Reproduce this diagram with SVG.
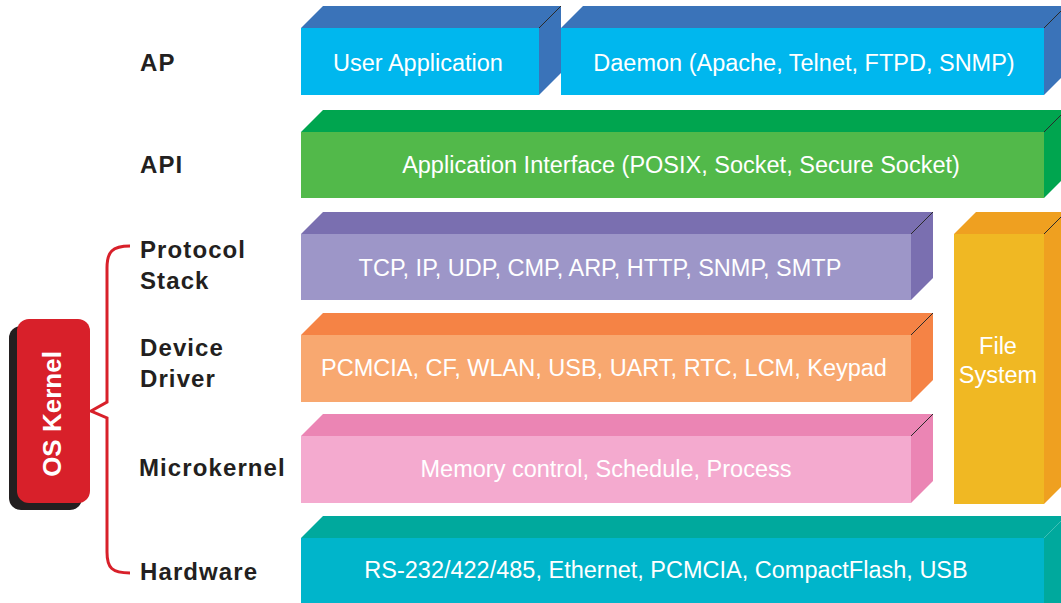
<svg xmlns="http://www.w3.org/2000/svg" width="1061" height="603" viewBox="0 0 1061 603">
<style>
.lbl{font-family:"Liberation Sans",Arial,sans-serif;font-weight:bold;font-size:24px;fill:#231F20;letter-spacing:1.1px}
.in{font-family:"Liberation Sans",Arial,sans-serif;font-size:23.5px;fill:#FFFFFF;text-anchor:middle}
.edge{stroke:#2a2a2a;stroke-width:1;fill:none}
</style>
<rect width="1061" height="603" fill="#FFFFFF"/>
<g id="ap-user">
<polygon points="301,28 323,6 561,6 539,28" fill="#3A73B9"/>
<polygon points="539,28 561,6 561,73 539,95" fill="#3A73B9"/>
<rect x="301" y="28" width="238" height="67" fill="#00B7EE"/>
<line class="edge" x1="539" y1="28" x2="561" y2="6"/>
<text class="in" x="418" y="71">User Application</text>
</g>
<g id="ap-daemon">
<polygon points="561,28 583,6 1066,6 1044,28" fill="#3A73B9"/>
<polygon points="1044,28 1066,6 1066,73 1044,95" fill="#3A73B9"/>
<rect x="561" y="28" width="483" height="67" fill="#00B7EE"/>
<line class="edge" x1="1044" y1="28" x2="1066" y2="6"/>
<text class="in" x="804" y="71">Daemon (Apache, Telnet, FTPD, SNMP)</text>
</g>
<g id="api">
<polygon points="301,132 323,110 1066,110 1044,132" fill="#00A54F"/>
<polygon points="1044,132 1066,110 1066,176 1044,198" fill="#00A54F"/>
<rect x="301" y="132" width="743" height="66" fill="#52B94A"/>
<line class="edge" x1="1044" y1="132" x2="1066" y2="110"/>
<text class="in" x="681" y="173">Application Interface (POSIX, Socket, Secure Socket)</text>
</g>
<g id="protocol">
<polygon points="301,234 323,212 933,212 911,234" fill="#7A6FB0"/>
<polygon points="911,234 933,212 933,278 911,300" fill="#7A6FB0"/>
<rect x="301" y="234" width="610" height="66" fill="#9D96C8"/>
<line class="edge" x1="911" y1="234" x2="933" y2="212"/>
<text class="in" x="600" y="276">TCP, IP, UDP, CMP, ARP, HTTP, SNMP, SMTP</text>
</g>
<g id="driver">
<polygon points="301,335 323,313 933,313 911,335" fill="#F58345"/>
<polygon points="911,335 933,313 933,380 911,402" fill="#F58345"/>
<rect x="301" y="335" width="610" height="67" fill="#F8A870"/>
<line class="edge" x1="911" y1="335" x2="933" y2="313"/>
<text class="in" x="604" y="376">PCMCIA, CF, WLAN, USB, UART, RTC, LCM, Keypad</text>
</g>
<g id="microkernel">
<polygon points="301,436 323,414 933,414 911,436" fill="#EB85B4"/>
<polygon points="911,436 933,414 933,481 911,503" fill="#EB85B4"/>
<rect x="301" y="436" width="610" height="67" fill="#F4AACF"/>
<line class="edge" x1="911" y1="436" x2="933" y2="414"/>
<text class="in" x="606" y="477">Memory control, Schedule, Process</text>
</g>
<g id="filesystem">
<polygon points="954,234 976,212 1066,212 1044,234" fill="#EFA020"/>
<polygon points="1044,234 1066,212 1066,482 1044,504" fill="#EFA020"/>
<rect x="954" y="234" width="90" height="270" fill="#F0B823"/>
<line class="edge" x1="1044" y1="234" x2="1066" y2="212"/>
<text class="in" x="998" y="354">File</text>
<text class="in" x="998" y="383">System</text>
</g>
<g id="hardware">
<polygon points="301,538 323,516 1066,516 1044,538" fill="#00A99D"/>
<rect x="301" y="538" width="743" height="67" fill="#00B5CB"/>
<polygon points="1044,538 1066,516 1066,603 1044,603" fill="#00A99D"/>
<text class="in" x="666" y="578">RS-232/422/485, Ethernet, PCMCIA, CompactFlash, USB</text>
</g>
<g id="labels">
<text class="lbl" x="140" y="71">AP</text>
<text class="lbl" x="140" y="173">API</text>
<text class="lbl" x="140" y="258">Protocol</text>
<text class="lbl" x="140" y="289">Stack</text>
<text class="lbl" x="140" y="356">Device</text>
<text class="lbl" x="140" y="387">Driver</text>
<text class="lbl" x="139" y="476">Microkernel</text>
<text class="lbl" x="140" y="580">Hardware</text>
</g>
<g id="connectors">
<path d="M130,246 C112,246 107,252 107,268 L107,402 L91,411 L107,418 L107,552 C107,568 112,573 130,573" fill="none" stroke="#D8202A" stroke-width="3"/>
</g>
<g id="os-kernel">
<rect x="9" y="326" width="73" height="184" rx="12" fill="#231F20"/>
<rect x="17" y="319" width="73" height="184" rx="12" fill="#D8202A"/>
<text x="0" y="0" transform="translate(61,414) rotate(-90)" font-family="Liberation Sans,Arial,sans-serif" font-weight="bold" font-size="26" fill="#FFFFFF" text-anchor="middle">OS Kernel</text>
</g>
</svg>
